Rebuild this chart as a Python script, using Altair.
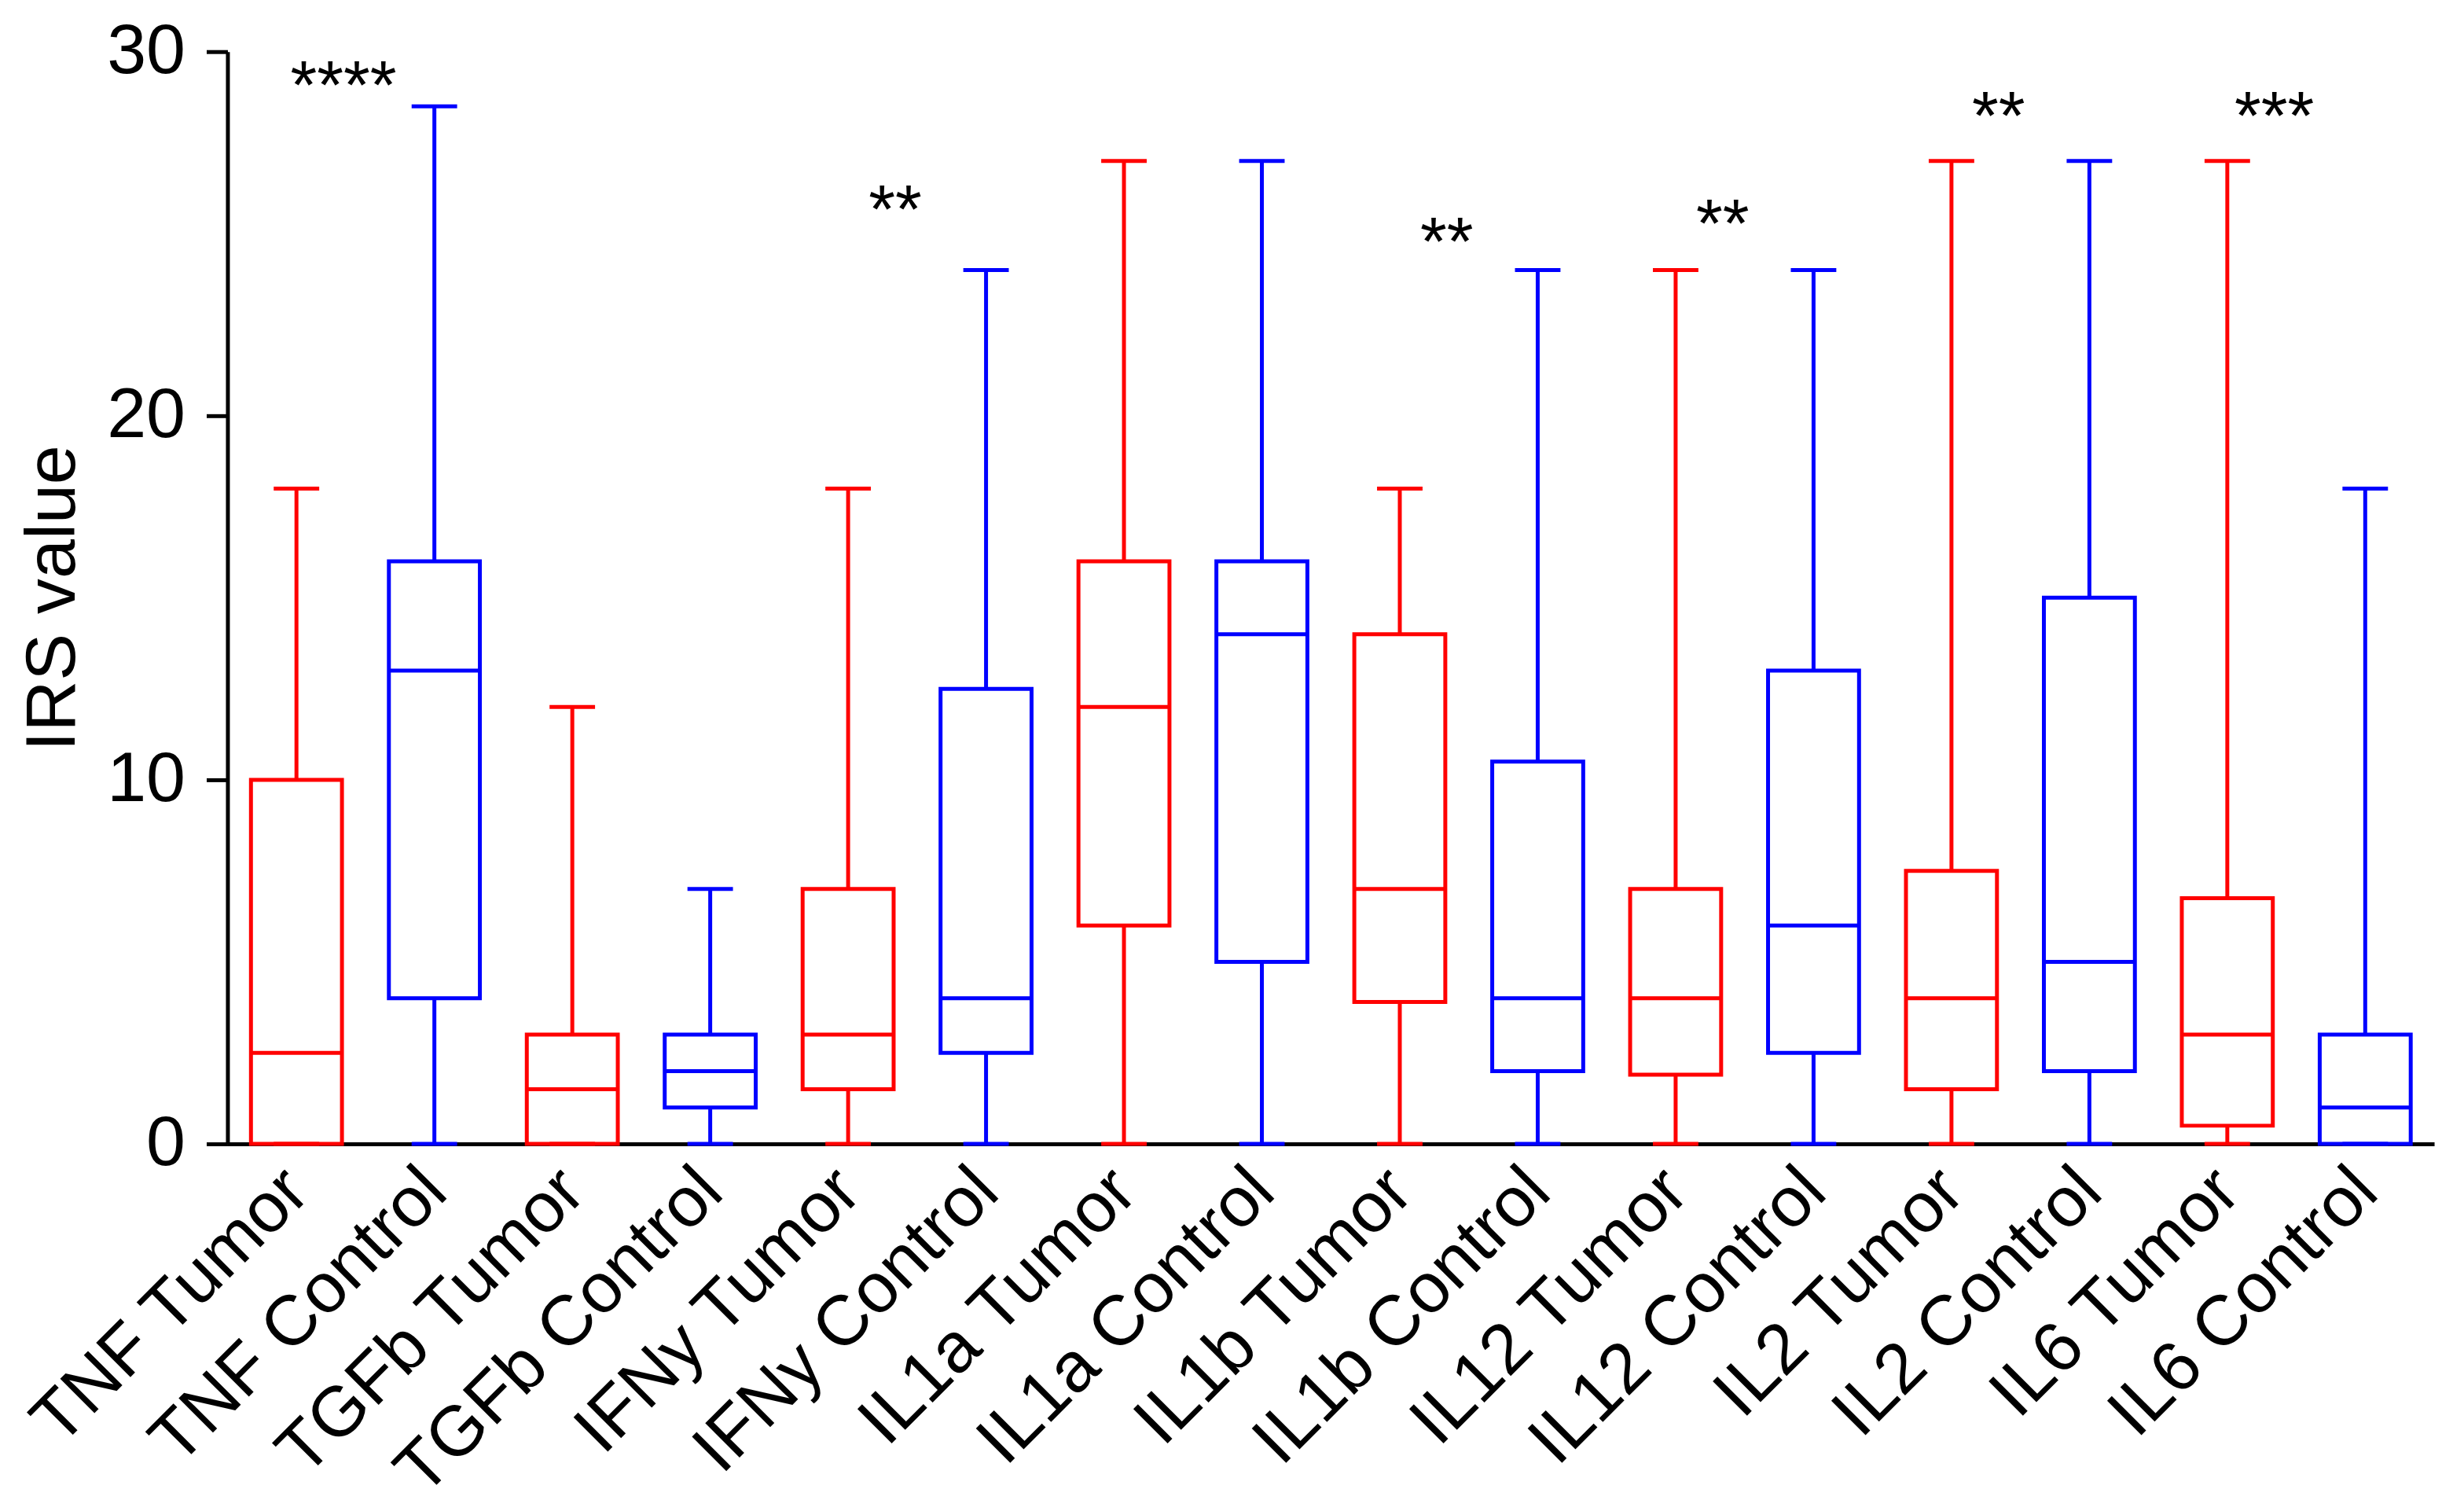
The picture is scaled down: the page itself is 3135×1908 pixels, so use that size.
import altair as alt
import pandas as pd

categories = [
    "TNF Tumor", "TNF Control", "TGFb Tumor", "TGFb Control",
    "IFNy Tumor", "IFNy Control", "IL1a Tumor", "IL1a Control",
    "IL1b Tumor", "IL1b Control", "IL12 Tumor", "IL12 Control",
    "IL2 Tumor", "IL2 Control", "IL6 Tumor", "IL6 Control",
]
groups = ["Tumor", "Control"] * 8
q_min = [0, 0, 0, 0, 0, 0, 0, 0, 0, 0, 0, 0, 0, 0, 0, 0]
q1 = [0, 4, 0, 1, 1.5, 2.5, 6, 5, 3.9, 2, 1.9, 2.5, 1.5, 2, 0.5, 0]
median = [2.5, 13, 1.5, 2, 3, 4, 12, 14, 7, 4, 4, 6, 4, 5, 3, 1]
q3 = [10, 16, 3, 3, 7, 12.5, 16, 16, 14, 10.5, 7, 13, 7.5, 15, 6.75, 3]
q_max = [18, 28.5, 12, 7, 18, 24, 27, 27, 18, 24, 24, 24, 27, 27, 27, 18]

star_cats = ["TNF Tumor", "IFNy Tumor", "IL1b Tumor", "IL12 Tumor", "IL2 Tumor", "IL6 Tumor"]
star_text = ["****", "**", "**", "**", "**", "***"]
star_y = [29.3, 25.9, 25.0, 25.5, 28.45, 28.45]

df = pd.DataFrame({
    "category": categories, "group": groups, "min": q_min, "q1": q1,
    "median": median, "q3": q3, "max": q_max,
})
stars = pd.DataFrame({"category": star_cats, "label": star_text, "y": star_y})

FONT = "Liberation Sans"
FS = 90
SW = 5

x_enc = alt.X(
    "category:N", sort=categories,
    scale=alt.Scale(paddingInner=0, paddingOuter=0),
    axis=alt.Axis(
        title=None, labelAngle=-45, ticks=False, domainWidth=SW,
        domainColor="black", labelFontSize=FS, labelFont=FONT,
        labelColor="black", labelPadding=46, labelOffset=1,
        labelAlign="right", labelBaseline="middle", labelLimit=2000,
        labelOverlap=False,
    ),
)
y_scale = alt.Scale(domain=[0, 30], nice=False, zero=True)
y_axis = alt.Axis(
    values=[0, 10, 20, 30], tickSize=27, tickWidth=SW, tickColor="black",
    domainWidth=SW, domainColor="black", labelFontSize=FS, labelFont=FONT,
    labelColor="black", labelPadding=27, grid=False, title="IRS value",
    titleFontSize=FS, titleFont=FONT, titleFontWeight="normal",
    titleColor="black", titlePadding=22,
)
color_enc = alt.Color(
    "group:N",
    scale=alt.Scale(domain=["Tumor", "Control"], range=["#FF0000", "#0000FF"]),
    legend=None,
)

base = alt.Chart(df)

upper = base.mark_rule(strokeWidth=SW, opacity=1).encode(
    x=x_enc, y=alt.Y("q3:Q", scale=y_scale, axis=y_axis), y2="max:Q", color=color_enc)
lower = base.mark_rule(strokeWidth=SW, opacity=1).encode(
    x=x_enc, y=alt.Y("min:Q", scale=y_scale, axis=y_axis), y2="q1:Q", color=color_enc)
box = base.mark_bar(size=116, fillOpacity=0, strokeWidth=SW, strokeOpacity=1).encode(
    x=x_enc, y=alt.Y("q1:Q", scale=y_scale, axis=y_axis), y2="q3:Q",
    stroke=color_enc)
med = base.mark_tick(size=116, thickness=SW, opacity=1).encode(
    x=x_enc, y=alt.Y("median:Q", scale=y_scale, axis=y_axis), color=color_enc)
cap_top = base.mark_tick(size=58, thickness=SW, opacity=1).encode(
    x=x_enc, y=alt.Y("max:Q", scale=y_scale, axis=y_axis), color=color_enc)
cap_bot = base.mark_tick(size=58, thickness=SW, opacity=1).encode(
    x=x_enc, y=alt.Y("min:Q", scale=y_scale, axis=y_axis), color=color_enc)

star_layer = alt.Chart(stars).mark_text(
    dx=60, dy=14, fontSize=87, font=FONT, color="black", baseline="middle", align="center"
).encode(
    x=x_enc, y=alt.Y("y:Q", scale=y_scale, axis=y_axis), text="label:N")

chart = alt.layer(upper, lower, box, med, cap_top, cap_bot, star_layer).properties(
    width=2813, height=1392,
    autosize=alt.AutoSizeParams(type="none"),
    padding={"left": 282, "top": 56, "right": 30, "bottom": 440},
).configure_view(strokeWidth=0)

chart.save("out.html", embed_options={"renderer": "svg", "actions": False})
